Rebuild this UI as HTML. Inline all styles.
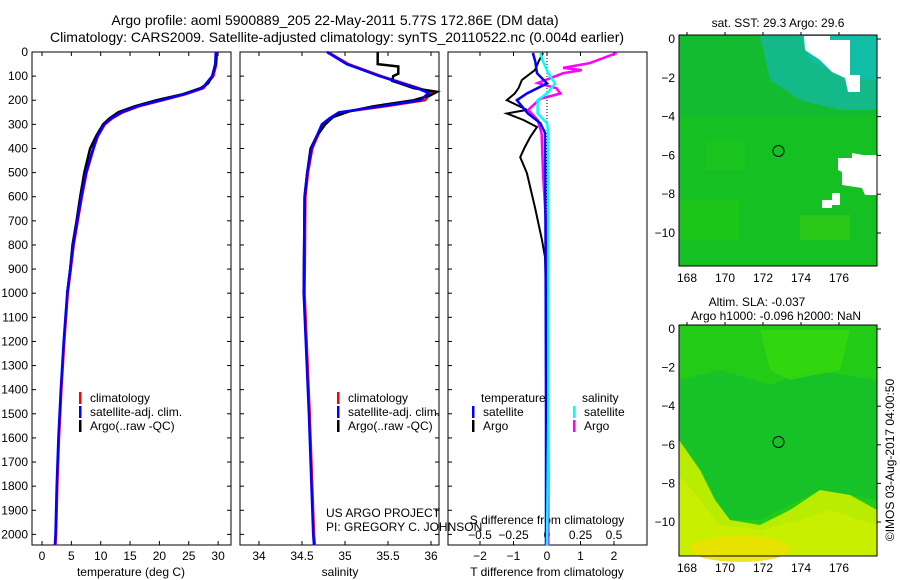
<!DOCTYPE html>
<html><head><meta charset="utf-8"><style>
body{margin:0;background:#fff;}
svg{display:block;font-family:"Liberation Sans",sans-serif;}
</style></head><body>
<svg id="fig" width="900" height="580" viewBox="0 0 900 580" xmlns="http://www.w3.org/2000/svg">
<g font-size="14" text-anchor="middle">
<text x="335" y="25">Argo profile: aoml 5900889_205 22-May-2011 5.77S 172.86E (DM data)</text>
<text x="337" y="42">Climatology: CARS2009. Satellite-adjusted climatology: synTS_20110522.nc (0.004d earlier)</text>
</g>
<g id="panels"></g>
<g id="maps">
<text x="778" y="27" font-size="12" text-anchor="middle">sat. SST: 29.3 Argo: 29.6</text>
<g>
<rect x="679" y="35" width="198" height="231" fill="#14c022"/>
<rect x="679" y="35" width="198" height="80" fill="#10b838" opacity="0.6"/>
<polygon points="760,35 877,35 877,110 840,110 800,100 770,80" fill="#14b98a"/>
<polygon points="800,35 877,35 877,80 845,78 810,60" fill="#10bfa5"/>
<rect x="679" y="200" width="60" height="40" fill="#24cc10" opacity="0.5"/>
<rect x="800" y="215" width="50" height="25" fill="#40d010" opacity="0.5"/>
<rect x="705" y="140" width="40" height="30" fill="#1cc818" opacity="0.5"/>
<polygon points="804,36 830,36 830,40 850,40 850,75 860,75 860,92 848,92 845,78 832,72 820,60 805,50" fill="#fff"/>
<polygon points="863,155 877,155 877,195 865,195 862,188 842,185 842,172 838,170 838,158 852,158 852,153" fill="#fff"/>
<rect x="832" y="193" width="8" height="12" fill="#fff"/>
<rect x="822" y="200" width="10" height="8" fill="#fff"/>
<circle cx="778.5" cy="151" r="5.5" fill="none" stroke="#000" stroke-width="1"/>
<rect x="679" y="35" width="198" height="231" fill="none" stroke="#000"/>
</g>
<text x="757" y="306" font-size="12" text-anchor="middle">Altim. SLA: -0.037</text>
<text x="776" y="320" font-size="12" text-anchor="middle">Argo h1000: -0.096 h2000: NaN</text>
<g>
<rect x="679" y="325" width="198" height="231" fill="#22cc16"/>
<polygon points="679,380 720,370 770,385 810,370 877,380 877,500 850,495 820,490 790,505 760,520 730,520 715,500 700,470 679,440" fill="#14bf2c" opacity="0.8"/>
<polygon points="760,330 850,330 840,370 790,380 770,370" fill="#36d80c" opacity="0.8"/>
<polygon points="679,440 700,470 715,500 730,520 760,525 790,510 820,490 850,495 877,510 877,556 679,556" fill="#b8ec00"/>
<polygon points="679,475 700,500 720,525 760,530 800,520 830,510 877,525 877,556 679,556" fill="#c8ee00"/>
<ellipse cx="740" cy="549" rx="50" ry="13" fill="#ecdf00" opacity="0.85"/>
<circle cx="778.5" cy="442" r="5.5" fill="none" stroke="#000" stroke-width="1"/>
<rect x="679" y="325" width="198" height="231" fill="none" stroke="#000"/>
</g>
<text transform="translate(894,460) rotate(-90)" font-size="12" text-anchor="middle">©IMOS 03-Aug-2017 04:00:50</text>
</g>
</svg>
<script>
// ---- data ----
const tDepth=[0,50,100,150,175,200,225,250,275,300,350,400,500,600,700,800,900,1000,1200,1400,1600,1800,2000,2045];
const tClim=[29.8,29.7,29.2,27.5,24.5,20.6,16.5,13.8,12.0,10.7,9.5,8.8,7.6,6.8,6.1,5.4,4.9,4.4,3.8,3.3,2.9,2.6,2.4,2.3];
const tSat=[29.6,29.5,29.0,27.3,24.2,20.3,16.2,13.5,11.8,10.6,9.4,8.7,7.5,6.7,6.0,5.3,4.8,4.3,3.7,3.2,2.8,2.5,2.3,2.2];
const tArgoDepth=[0,50,100,130,150,175,200,225,250,275,300,350,400,450,500,600,700,800,900,1000];
const tArgo=[29.7,29.6,29.0,28.3,27.0,24.0,19.5,15.8,13.0,11.5,10.4,9.2,8.2,7.7,7.2,6.5,5.9,5.2,4.8,4.3];
const sDepth=[0,50,100,150,170,200,225,250,275,300,350,400,500,600,1000,1500,2000,2045];
const sClim=[34.80,35.04,35.42,35.86,36.00,35.93,35.47,34.96,34.84,34.74,34.68,34.62,34.57,34.54,34.53,34.59,34.64,34.65];
const sSat=[34.79,35.02,35.40,35.84,35.97,35.88,35.42,34.93,34.82,34.73,34.67,34.61,34.56,34.53,34.52,34.58,34.63,34.64];
const sArgoDepth=[0,50,60,90,100,120,130,150,165,180,200,225,245,270,300,350,400,500,600,1000];
const sArgo=[35.38,35.38,35.62,35.62,35.56,35.55,35.64,35.80,36.07,35.99,35.80,35.33,35.06,34.86,34.77,34.67,34.60,34.56,34.53,34.52];
const dDepth=[4,40,88,130,172,200,255,295,335,500,1000,1500,2045];
const dTSat=[-0.42,-0.35,-0.30,0.0,-0.6,-0.9,-0.57,-0.2,-0.06,-0.05,-0.04,-0.03,-0.03];
const dTArgoDepth=[4,40,75,116,150,172,200,240,255,282,311,352,394,436,502,643,780,850,1000,1500,2045];
const dTArgo=[-0.12,-0.25,-0.36,-0.75,-0.85,-0.96,-1.2,-0.6,-1.2,-0.7,-0.3,-0.5,-0.66,-0.8,-0.6,-0.36,-0.15,-0.06,-0.03,-0.02,-0.02];
const dSSat=[-0.05,-0.03,0.01,0.06,0.0,-0.07,-0.07,0.0,0.01,0.01,0.01,0.01,0.0];
const dSArgoDepth=[4,25,46,66,75,88,129,150,172,194,240,282,337,502,780,1000,2045];
const dSArgo=[0.52,0.42,0.32,0.12,0.26,0.12,-0.07,0.07,0.10,-0.05,-0.14,-0.07,-0.04,-0.03,0.0,0.01,0.01];
const depthTicks=[0,100,200,300,400,500,600,700,800,900,1000,1100,1200,1300,1400,1500,1600,1700,1800,1900,2000];
const tTicks=[0,5,10,15,20,25,30];
const sTicks=[34,34.5,35,35.5,36];
const dTTicks=[-2,-1,0,1,2];
const dSTicks=[-0.5,-0.25,0,0.25,0.5];
const dSTickLabels=["\u22120.5","\u22120.25","0","0.25","0.5"];
const latTicks=[0,-2,-4,-6,-8,-10];
const lonTicks=[168,170,172,174,176];

// ---- axes ----
const NS='http://www.w3.org/2000/svg';
const top0=52,bot=545;
const yD=d=>top0+d*0.2412;
const xT=v=>42+5.87*v;
const xS=v=>259+86*(v-34);
const xDT=v=>547+33.5*v;
const xDS=v=>547+134*v;
const root=document.getElementById('panels');
function mk(tag,attrs,parent){const e=document.createElementNS(NS,tag);for(const k in attrs)e.setAttribute(k,attrs[k]);(parent||root).appendChild(e);return e;}
function txt(x,y,s,anchor,size,parent){const e=mk('text',{x:x,y:y,'font-size':size||12,'text-anchor':anchor||'start'},parent);e.textContent=s;return e;}
function line(xs,ds,fx,color,w,name,dash){
  let d='';for(let i=0;i<xs.length;i++)d+=(i?'L':'M')+fx(xs[i]).toFixed(1)+','+yD(ds[i]).toFixed(1);
  const p=mk('path',{d:d,fill:'none',stroke:color,'stroke-width':w||2.5});
  if(dash)p.setAttribute('stroke-dasharray',dash);
  
  
  return p;
}
const panels=[[32,231],[240,439],[448,647]];
panels.forEach((p,i)=>{
  const r=mk('rect',{x:p[0],y:top0,width:p[1]-p[0],height:bot-top0,fill:'none',stroke:'#000','stroke-width':1});
  
  
  depthTicks.forEach(d=>{mk('line',{x1:p[0],x2:p[0]+4,y1:yD(d),y2:yD(d),stroke:'#000'});if(i<2)mk('line',{x1:p[1]-4,x2:p[1],y1:yD(d),y2:yD(d),stroke:'#000'});});
});
depthTicks.forEach(d=>{const t=txt(28,yD(d)+4,String(d),'end',12);});
tTicks.forEach(v=>{mk('line',{x1:xT(v),x2:xT(v),y1:top0,y2:top0+4,stroke:'#000'});mk('line',{x1:xT(v),x2:xT(v),y1:bot-4,y2:bot,stroke:'#000'});const t=txt(xT(v),560,String(v),'middle',12);});
sTicks.forEach(v=>{mk('line',{x1:xS(v),x2:xS(v),y1:top0,y2:top0+4,stroke:'#000'});mk('line',{x1:xS(v),x2:xS(v),y1:bot-4,y2:bot,stroke:'#000'});const t=txt(xS(v),560,String(v),'middle',12);});
dTTicks.forEach(v=>{mk('line',{x1:xDT(v),x2:xDT(v),y1:top0,y2:top0+4,stroke:'#000'});mk('line',{x1:xDT(v),x2:xDT(v),y1:bot-4,y2:bot,stroke:'#000'});const t=txt(xDT(v),560,v<0?'\u2212'+(-v):String(v),'middle',12);});
dSTicks.forEach((v,i)=>{const t=txt(xDS(v),539,dSTickLabels[i],'middle',12);});
let a=txt(131,576,'temperature (deg C)','middle',12);
a=txt(340,576,'salinity','middle',12);
a=txt(547,576,'T difference from climatology','middle',12);
a=txt(547,524,'S difference from climatology','middle',12);
a=txt(326,517,'US ARGO PROJECT','start',12);
a=txt(326,531,'PI: GREGORY C. JOHNSON','start',12);
const z=mk('line',{x1:xDT(0),x2:xDT(0),y1:top0,y2:bot,stroke:'#000','stroke-dasharray':'1,2'});

line(tClim,tDepth,xT,'#f00',2.5,'temperature-climatology-line');
line(tArgo,tArgoDepth,xT,'#000',2.5,'temperature-argo-line');
line(tSat,tDepth,xT,'#00f',2.5,'temperature-satellite-line');
line(sClim,sDepth,xS,'#f00',2.5,'salinity-climatology-line');
line(sArgo,sArgoDepth,xS,'#000',2.5,'salinity-argo-line');
line(sSat,sDepth,xS,'#00f',2.5,'salinity-satellite-line');
line(dTArgo,dTArgoDepth,xDT,'#000',2,'tdiff-argo-line');
line(dSArgo,dSArgoDepth,xDS,'#f0f',2.5,'sdiff-argo-line');
line(dTSat,dDepth,xDT,'#00f',2.5,'tdiff-satellite-line');
line(dSSat,dDepth,xDS,'#0ff',2.5,'sdiff-satellite-line');
function leg(x,y,color,label,name){const g=mk('g',{});mk('rect',{x:x,y:y-10,width:2.5,height:12,fill:color},g);txt(x+11,y,label,'start',12,g);}
[[79],[337]].forEach((p,i)=>{leg(p[0],402,'#f00','climatology','legend-climatology-'+(i+1));leg(p[0],416,'#00f','satellite-adj. clim.','legend-satellite-'+(i+1));leg(p[0],430,'#000','Argo(..raw -QC)','legend-argo-'+(i+1));});
a=txt(481,402,'temperature','start',12);
a=txt(582,402,'salinity','start',12);
leg(472,416,'#00f','satellite','legend-tdiff-satellite');leg(472,430,'#000','Argo','legend-tdiff-argo');
leg(573,416,'#0ff','satellite','legend-sdiff-satellite');leg(573,430,'#f0f','Argo','legend-sdiff-argo');
const maps=document.getElementById('maps');
[[39,233,266,35],[329,522,556,325]].forEach((m,k)=>{
  const yL=l=>m[0]+(m[1]-m[0])*(-l/10);
  latTicks.forEach(l=>{mk('line',{x1:877,x2:881,y1:yL(l),y2:yL(l),stroke:'#000'},maps);const t=txt(675,yL(l)+4,l<0?'\u2212'+(-l):String(l),'end',12,maps);});
  lonTicks.forEach(v=>{const x=687+19*(v-168);mk('line',{x1:x,x2:x,y1:m[3],y2:m[3]-3,stroke:'#000'},maps);const t=txt(x,m[2]+16,String(v),'middle',12,maps);});
});
</script>
</body></html>
